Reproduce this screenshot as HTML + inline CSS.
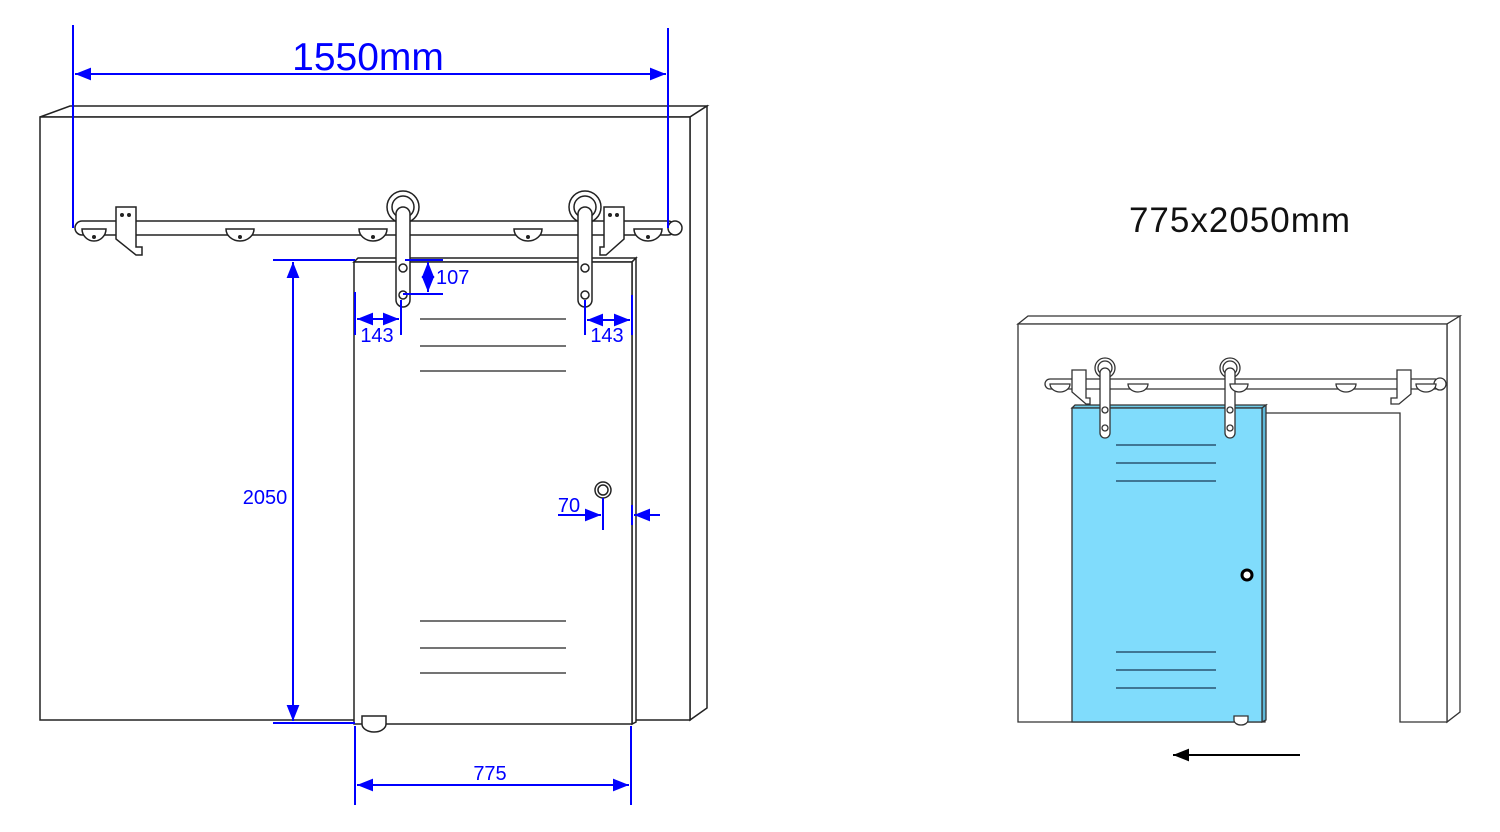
<!DOCTYPE html>
<html><head><meta charset="utf-8"><style>
body{margin:0;background:#fff}
svg{display:block}
text{font-family:"Liberation Sans",Arial,sans-serif}
</style></head><body>
<svg width="1500" height="832" viewBox="0 0 1500 832" xmlns="http://www.w3.org/2000/svg">
<defs>
<marker id="a" viewBox="0 0 10 10" refX="10" refY="5" markerWidth="8" markerHeight="8" orient="auto-start-reverse"><path d="M0,1 L10,5 L0,9 Z" fill="#0000ff"/></marker>
<marker id="k" viewBox="0 0 10 10" refX="10" refY="5" markerWidth="8" markerHeight="8" orient="auto-start-reverse"><path d="M0,1 L10,5 L0,9 Z" fill="#000"/></marker>
</defs>
<g fill="#fff" stroke="#222" stroke-width="1.5">
<polygon points="40,117 70,106 707,106 690,117"/>
<polygon points="690,117 707,106 707,708 690,720"/>
<rect x="40" y="117" width="650" height="603"/>
<rect x="75" y="221" width="600" height="14" rx="7"/>
<circle cx="675" cy="228" r="7"/>
<g>
<path d="M82,229 h24 a12,12 0 0 1 -24,0Z"/>
<path d="M226,229 h28 a14,12 0 0 1 -28,0Z"/>
<path d="M359,229 h28 a14,12 0 0 1 -28,0Z"/>
<path d="M514,229 h28 a14,12 0 0 1 -28,0Z"/>
<path d="M634,229 h28 a14,12 0 0 1 -28,0Z"/>
</g>
<g fill="#222" stroke="none"><circle cx="94" cy="237" r="2"/><circle cx="240" cy="237" r="2"/><circle cx="373" cy="237" r="2"/><circle cx="528" cy="237" r="2"/><circle cx="648" cy="237" r="2"/></g>
<path d="M116,207 h20 v40 h6 v8 h-6 l-20,-16 Z"/>
<path d="M604,207 h20 v32 l-18,16 h-6 v-8 h4 Z"/>
<g fill="#222" stroke="none"><circle cx="122" cy="215" r="2"/><circle cx="129" cy="215" r="2"/><circle cx="610" cy="215" r="2"/><circle cx="617" cy="215" r="2"/></g>
<polygon points="354,262 358,258 636,258 632,262"/>
<polygon points="632,262 636,258 636,722 632,724"/>
<rect x="354" y="262" width="278" height="462"/>
<path d="M362,716 h24 v8 a12,8 0 0 1 -24,0Z"/>
<circle cx="403" cy="207" r="16"/><circle cx="403" cy="207" r="11"/>
<rect x="396" y="207" width="14" height="100" rx="7"/>
<circle cx="403" cy="268" r="4"/><circle cx="403" cy="295" r="4"/>
<circle cx="585" cy="207" r="16"/><circle cx="585" cy="207" r="11"/>
<rect x="578" y="207" width="14" height="100" rx="7"/>
<circle cx="585" cy="268" r="4"/><circle cx="585" cy="295" r="4"/>
<circle cx="603" cy="490" r="8"/><circle cx="603" cy="490" r="5"/>
</g>
<g stroke="#222" stroke-width="1.3">
<line x1="420" y1="319" x2="566" y2="319"/><line x1="420" y1="346" x2="566" y2="346"/><line x1="420" y1="371" x2="566" y2="371"/>
<line x1="420" y1="621" x2="566" y2="621"/><line x1="420" y1="648" x2="566" y2="648"/><line x1="420" y1="673" x2="566" y2="673"/>
</g>
<g stroke="#0000ff" stroke-width="2" fill="none">
<line x1="73" y1="25" x2="73" y2="228"/><line x1="668" y1="28" x2="668" y2="228"/>
<line x1="75" y1="74" x2="666" y2="74" marker-start="url(#a)" marker-end="url(#a)"/>
<line x1="273" y1="260" x2="355" y2="260"/><line x1="273" y1="723" x2="355" y2="723"/>
<line x1="293" y1="262" x2="293" y2="721" marker-start="url(#a)" marker-end="url(#a)"/>
<line x1="355" y1="726" x2="355" y2="805"/><line x1="631" y1="726" x2="631" y2="805"/>
<line x1="357" y1="785" x2="629" y2="785" marker-start="url(#a)" marker-end="url(#a)"/>
<line x1="405" y1="260" x2="443" y2="260"/><line x1="403" y1="294" x2="443" y2="294"/>
<line x1="428" y1="262" x2="428" y2="292" marker-start="url(#a)" marker-end="url(#a)"/>
<line x1="355" y1="292" x2="355" y2="335"/><line x1="401" y1="300" x2="401" y2="335"/>
<line x1="357" y1="319" x2="399" y2="319" marker-start="url(#a)" marker-end="url(#a)"/>
<line x1="585" y1="300" x2="585" y2="335"/><line x1="632" y1="295" x2="632" y2="335"/>
<line x1="587" y1="320" x2="630" y2="320" marker-start="url(#a)" marker-end="url(#a)"/>
<line x1="603" y1="498" x2="603" y2="530"/><line x1="632" y1="505" x2="632" y2="525"/>
<line x1="558" y1="515" x2="601" y2="515" marker-end="url(#a)"/>
<line x1="660" y1="515" x2="634" y2="515" marker-end="url(#a)"/>
</g>
<g fill="#0000ff">
<text x="368" y="70" font-size="39" text-anchor="middle">1550mm</text>
<text x="265" y="504" font-size="20" text-anchor="middle">2050</text>
<text x="490" y="780" font-size="20" text-anchor="middle">775</text>
<text x="436" y="284" font-size="20">107</text>
<text x="377" y="342" font-size="20" text-anchor="middle">143</text>
<text x="607" y="342" font-size="20" text-anchor="middle">143</text>
<text x="569" y="512" font-size="20" text-anchor="middle">70</text>
</g>
<text x="1240" y="232" font-size="35" text-anchor="middle" fill="#111" letter-spacing="1">775x2050mm</text>
<g fill="#fff" stroke="#333" stroke-width="1.3">
<polygon points="1018,324 1028,316 1460,316 1447,324"/>
<polygon points="1447,324 1460,316 1460,712 1447,722"/>
<path d="M1018,324 H1447 V722 H1400 V413 H1265 V722 H1018 Z"/>
<rect x="1045" y="379" width="395" height="10" rx="5"/>
<circle cx="1440" cy="384" r="6"/>
<path d="M1050,384 h20 a10,8 0 0 1 -20,0Z"/>
<path d="M1128,384 h20 a10,8 0 0 1 -20,0Z"/>
<path d="M1336,384 h20 a10,8 0 0 1 -20,0Z"/>
<path d="M1416,384 h20 a10,8 0 0 1 -20,0Z"/>
<path d="M1072,370 h14 v28 h4 v6 h-4 l-14,-12 Z"/>
<path d="M1397,370 h14 v24 l-12,10 h-8 v-6 h6 Z"/>
<polygon points="1072,408 1075,405 1266,405 1262,408" fill="#6ecbe8"/>
<polygon points="1262,408 1266,405 1266,720 1262,722" fill="#5fb8d8"/>
<rect x="1072" y="408" width="190" height="314" fill="#80dcfc"/>
<path d="M1234,716 h14 v4 a7,5 0 0 1 -14,0Z"/>
<circle cx="1105" cy="368" r="10"/><circle cx="1105" cy="368" r="7"/>
<rect x="1100" y="368" width="10" height="70" rx="5"/>
<circle cx="1105" cy="410" r="3"/><circle cx="1105" cy="428" r="3"/>
<circle cx="1230" cy="368" r="10"/><circle cx="1230" cy="368" r="7"/>
<rect x="1225" y="368" width="10" height="70" rx="5"/>
<circle cx="1230" cy="410" r="3"/><circle cx="1230" cy="428" r="3"/>
<path d="M1230,384 h18 a9,8 0 0 1 -18,0Z"/>
</g>
<g stroke="#1a3a55" stroke-width="1.3">
<line x1="1116" y1="445" x2="1216" y2="445"/><line x1="1116" y1="463" x2="1216" y2="463"/><line x1="1116" y1="481" x2="1216" y2="481"/>
<line x1="1116" y1="652" x2="1216" y2="652"/><line x1="1116" y1="670" x2="1216" y2="670"/><line x1="1116" y1="688" x2="1216" y2="688"/>
</g>
<circle cx="1247" cy="575" r="5" fill="#fff" stroke="#000" stroke-width="3"/>
<line x1="1300" y1="755" x2="1173" y2="755" stroke="#000" stroke-width="2" marker-end="url(#k)"/>
</svg>
</body></html>
